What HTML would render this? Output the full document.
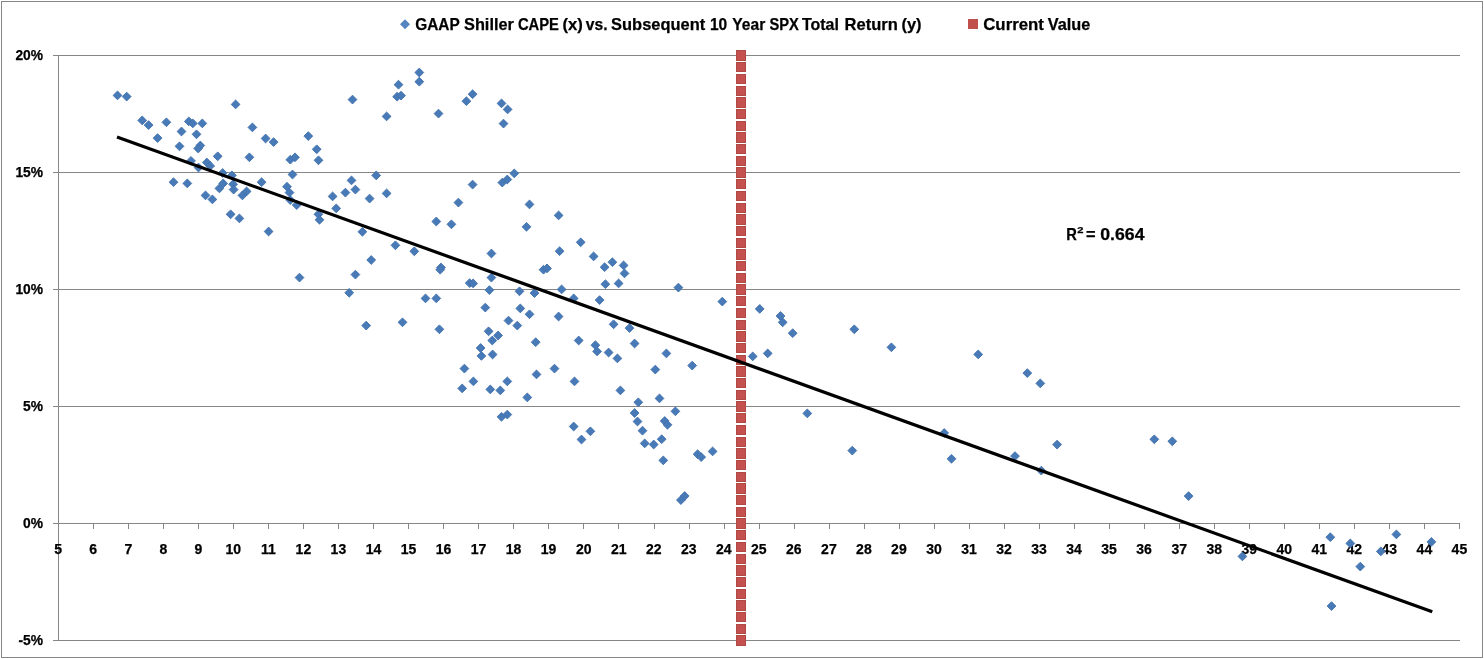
<!DOCTYPE html>
<html><head><meta charset="utf-8"><title>GAAP Shiller CAPE vs. Subsequent 10 Year SPX Total Return</title>
<style>html,body{margin:0;padding:0;background:#fff;overflow:hidden}svg{display:block}text{font-family:"Liberation Sans",sans-serif;font-weight:bold;fill:#000;stroke:#000;stroke-width:0.25px}</style></head><body>
<svg width="1484" height="659" viewBox="0 0 1484 659">
<rect x="0" y="0" width="1484" height="659" fill="#fff"/>
<rect x="1.5" y="1.5" width="1481" height="656" fill="none" stroke="#868686" stroke-width="1"/>
<g stroke="#868686" stroke-width="1" shape-rendering="crispEdges">
<line x1="53" y1="55.5" x2="1460" y2="55.5"/>
<line x1="53" y1="172.5" x2="1460" y2="172.5"/>
<line x1="53" y1="289.5" x2="1460" y2="289.5"/>
<line x1="53" y1="406.5" x2="1460" y2="406.5"/>
<line x1="53" y1="523.5" x2="1460" y2="523.5"/>
<line x1="53" y1="640.5" x2="1460" y2="640.5"/>
<line x1="58.5" y1="55" x2="58.5" y2="641"/>
<line x1="58.5" y1="523" x2="58.5" y2="529"/>
<line x1="93.53" y1="523" x2="93.53" y2="529"/>
<line x1="128.56" y1="523" x2="128.56" y2="529"/>
<line x1="163.59" y1="523" x2="163.59" y2="529"/>
<line x1="198.62" y1="523" x2="198.62" y2="529"/>
<line x1="233.65" y1="523" x2="233.65" y2="529"/>
<line x1="268.68" y1="523" x2="268.68" y2="529"/>
<line x1="303.71" y1="523" x2="303.71" y2="529"/>
<line x1="338.74" y1="523" x2="338.74" y2="529"/>
<line x1="373.77" y1="523" x2="373.77" y2="529"/>
<line x1="408.8" y1="523" x2="408.8" y2="529"/>
<line x1="443.83" y1="523" x2="443.83" y2="529"/>
<line x1="478.86" y1="523" x2="478.86" y2="529"/>
<line x1="513.89" y1="523" x2="513.89" y2="529"/>
<line x1="548.92" y1="523" x2="548.92" y2="529"/>
<line x1="583.95" y1="523" x2="583.95" y2="529"/>
<line x1="618.98" y1="523" x2="618.98" y2="529"/>
<line x1="654.01" y1="523" x2="654.01" y2="529"/>
<line x1="689.04" y1="523" x2="689.04" y2="529"/>
<line x1="724.07" y1="523" x2="724.07" y2="529"/>
<line x1="759.1" y1="523" x2="759.1" y2="529"/>
<line x1="794.13" y1="523" x2="794.13" y2="529"/>
<line x1="829.16" y1="523" x2="829.16" y2="529"/>
<line x1="864.19" y1="523" x2="864.19" y2="529"/>
<line x1="899.22" y1="523" x2="899.22" y2="529"/>
<line x1="934.25" y1="523" x2="934.25" y2="529"/>
<line x1="969.28" y1="523" x2="969.28" y2="529"/>
<line x1="1004.31" y1="523" x2="1004.31" y2="529"/>
<line x1="1039.34" y1="523" x2="1039.34" y2="529"/>
<line x1="1074.37" y1="523" x2="1074.37" y2="529"/>
<line x1="1109.4" y1="523" x2="1109.4" y2="529"/>
<line x1="1144.43" y1="523" x2="1144.43" y2="529"/>
<line x1="1179.46" y1="523" x2="1179.46" y2="529"/>
<line x1="1214.49" y1="523" x2="1214.49" y2="529"/>
<line x1="1249.52" y1="523" x2="1249.52" y2="529"/>
<line x1="1284.55" y1="523" x2="1284.55" y2="529"/>
<line x1="1319.58" y1="523" x2="1319.58" y2="529"/>
<line x1="1354.61" y1="523" x2="1354.61" y2="529"/>
<line x1="1389.64" y1="523" x2="1389.64" y2="529"/>
<line x1="1424.67" y1="523" x2="1424.67" y2="529"/>
<line x1="1459.7" y1="523" x2="1459.7" y2="529"/>
</g>
<g font-size="13.8" text-anchor="end">
<text x="43" y="60.4">20%</text>
<text x="43" y="177.4">15%</text>
<text x="43" y="294.4">10%</text>
<text x="43" y="411.4">5%</text>
<text x="43" y="528.4">0%</text>
<text x="43" y="645.4">-5%</text>
</g>
<g font-size="14" text-anchor="middle">
<text x="58.2" y="553.6">5</text>
<text x="93.2" y="553.6">6</text>
<text x="128.3" y="553.6">7</text>
<text x="163.3" y="553.6">8</text>
<text x="198.3" y="553.6">9</text>
<text x="233.3" y="553.6">10</text>
<text x="268.4" y="553.6">11</text>
<text x="303.4" y="553.6">12</text>
<text x="338.4" y="553.6">13</text>
<text x="373.5" y="553.6">14</text>
<text x="408.5" y="553.6">15</text>
<text x="443.5" y="553.6">16</text>
<text x="478.6" y="553.6">17</text>
<text x="513.6" y="553.6">18</text>
<text x="548.6" y="553.6">19</text>
<text x="583.7" y="553.6">20</text>
<text x="618.7" y="553.6">21</text>
<text x="653.7" y="553.6">22</text>
<text x="688.7" y="553.6">23</text>
<text x="723.8" y="553.6">24</text>
<text x="758.8" y="553.6">25</text>
<text x="793.8" y="553.6">26</text>
<text x="828.9" y="553.6">27</text>
<text x="863.9" y="553.6">28</text>
<text x="898.9" y="553.6">29</text>
<text x="934.0" y="553.6">30</text>
<text x="969.0" y="553.6">31</text>
<text x="1004.0" y="553.6">32</text>
<text x="1039.0" y="553.6">33</text>
<text x="1074.1" y="553.6">34</text>
<text x="1109.1" y="553.6">35</text>
<text x="1144.1" y="553.6">36</text>
<text x="1179.2" y="553.6">37</text>
<text x="1214.2" y="553.6">38</text>
<text x="1249.2" y="553.6">39</text>
<text x="1284.2" y="553.6">40</text>
<text x="1319.3" y="553.6">41</text>
<text x="1354.3" y="553.6">42</text>
<text x="1389.3" y="553.6">43</text>
<text x="1424.4" y="553.6">44</text>
<text x="1459.4" y="553.6">45</text>
</g>
<g fill="#c5514f" stroke="#b04846" stroke-width="1" shape-rendering="crispEdges">
<rect x="736.5" y="50.5" width="9" height="10"/>
<rect x="736.5" y="62.5" width="9" height="9"/>
<rect x="736.5" y="74.5" width="9" height="9"/>
<rect x="736.5" y="86.5" width="9" height="9"/>
<rect x="736.5" y="97.5" width="9" height="10"/>
<rect x="736.5" y="109.5" width="9" height="9"/>
<rect x="736.5" y="121.5" width="9" height="9"/>
<rect x="736.5" y="132.5" width="9" height="10"/>
<rect x="736.5" y="144.5" width="9" height="9"/>
<rect x="736.5" y="156.5" width="9" height="9"/>
<rect x="736.5" y="167.5" width="9" height="10"/>
<rect x="736.5" y="179.5" width="9" height="9"/>
<rect x="736.5" y="191.5" width="9" height="9"/>
<rect x="736.5" y="203.5" width="9" height="9"/>
<rect x="736.5" y="214.5" width="9" height="10"/>
<rect x="736.5" y="226.5" width="9" height="9"/>
<rect x="736.5" y="238.5" width="9" height="9"/>
<rect x="736.5" y="249.5" width="9" height="10"/>
<rect x="736.5" y="261.5" width="9" height="9"/>
<rect x="736.5" y="273.5" width="9" height="9"/>
<rect x="736.5" y="284.5" width="9" height="10"/>
<rect x="736.5" y="296.5" width="9" height="9"/>
<rect x="736.5" y="308.5" width="9" height="9"/>
<rect x="736.5" y="320.5" width="9" height="9"/>
<rect x="736.5" y="331.5" width="9" height="10"/>
<rect x="736.5" y="343.5" width="9" height="9"/>
<rect x="736.5" y="355.5" width="9" height="9"/>
<rect x="736.5" y="366.5" width="9" height="10"/>
<rect x="736.5" y="378.5" width="9" height="9"/>
<rect x="736.5" y="390.5" width="9" height="9"/>
<rect x="736.5" y="401.5" width="9" height="10"/>
<rect x="736.5" y="413.5" width="9" height="9"/>
<rect x="736.5" y="425.5" width="9" height="9"/>
<rect x="736.5" y="437.5" width="9" height="9"/>
<rect x="736.5" y="448.5" width="9" height="10"/>
<rect x="736.5" y="460.5" width="9" height="9"/>
<rect x="736.5" y="472.5" width="9" height="9"/>
<rect x="736.5" y="483.5" width="9" height="10"/>
<rect x="736.5" y="495.5" width="9" height="9"/>
<rect x="736.5" y="507.5" width="9" height="9"/>
<rect x="736.5" y="518.5" width="9" height="10"/>
<rect x="736.5" y="530.5" width="9" height="9"/>
<rect x="736.5" y="542.5" width="9" height="9"/>
<rect x="736.5" y="554.5" width="9" height="9"/>
<rect x="736.5" y="565.5" width="9" height="10"/>
<rect x="736.5" y="577.5" width="9" height="9"/>
<rect x="736.5" y="589.5" width="9" height="9"/>
<rect x="736.5" y="600.5" width="9" height="10"/>
<rect x="736.5" y="612.5" width="9" height="9"/>
<rect x="736.5" y="624.5" width="9" height="9"/>
<rect x="736.5" y="635.5" width="9" height="10"/>
</g>
<g fill="#487ab8" stroke="#4272ad" stroke-width="0.9">
<path d="M117.5 91.0L121.9 95.4L117.5 99.8L113.1 95.4Z"/>
<path d="M126.7 92.2L131.1 96.6L126.7 101.0L122.3 96.6Z"/>
<path d="M142.2 116.0L146.6 120.4L142.2 124.8L137.8 120.4Z"/>
<path d="M148.6 120.7L153.0 125.1L148.6 129.5L144.2 125.1Z"/>
<path d="M166.4 117.9L170.8 122.3L166.4 126.7L162.0 122.3Z"/>
<path d="M157.6 133.7L162.0 138.1L157.6 142.5L153.2 138.1Z"/>
<path d="M181.5 127.1L185.9 131.5L181.5 135.9L177.1 131.5Z"/>
<path d="M188.8 117.0L193.2 121.4L188.8 125.8L184.4 121.4Z"/>
<path d="M192.8 119.0L197.2 123.4L192.8 127.8L188.4 123.4Z"/>
<path d="M202.3 119.0L206.7 123.4L202.3 127.8L197.9 123.4Z"/>
<path d="M196.5 129.9L200.9 134.3L196.5 138.7L192.1 134.3Z"/>
<path d="M179.5 141.9L183.9 146.3L179.5 150.7L175.1 146.3Z"/>
<path d="M200.3 141.1L204.7 145.5L200.3 149.9L195.9 145.5Z"/>
<path d="M198.2 144.1L202.6 148.5L198.2 152.9L193.8 148.5Z"/>
<path d="M217.7 151.9L222.1 156.3L217.7 160.7L213.3 156.3Z"/>
<path d="M235.6 100.0L240.0 104.4L235.6 108.8L231.2 104.4Z"/>
<path d="M252.4 123.0L256.8 127.4L252.4 131.8L248.0 127.4Z"/>
<path d="M265.6 134.1L270.0 138.5L265.6 142.9L261.2 138.5Z"/>
<path d="M273.6 137.7L278.0 142.1L273.6 146.5L269.2 142.1Z"/>
<path d="M249.4 152.9L253.8 157.3L249.4 161.7L245.0 157.3Z"/>
<path d="M308.3 131.7L312.7 136.1L308.3 140.5L303.9 136.1Z"/>
<path d="M316.7 144.9L321.1 149.3L316.7 153.7L312.3 149.3Z"/>
<path d="M290.3 155.3L294.7 159.7L290.3 164.1L285.9 159.7Z"/>
<path d="M295.0 152.9L299.4 157.3L295.0 161.7L290.6 157.3Z"/>
<path d="M318.5 155.9L322.9 160.3L318.5 164.7L314.1 160.3Z"/>
<path d="M191.0 156.5L195.4 160.9L191.0 165.3L186.6 160.9Z"/>
<path d="M198.5 163.1L202.9 167.5L198.5 171.9L194.1 167.5Z"/>
<path d="M206.8 158.1L211.2 162.5L206.8 166.9L202.4 162.5Z"/>
<path d="M210.2 161.5L214.6 165.9L210.2 170.3L205.8 165.9Z"/>
<path d="M222.7 168.6L227.1 173.0L222.7 177.4L218.3 173.0Z"/>
<path d="M231.9 171.0L236.3 175.4L231.9 179.8L227.5 175.4Z"/>
<path d="M292.5 170.1L296.9 174.5L292.5 178.9L288.1 174.5Z"/>
<path d="M173.5 177.8L177.9 182.2L173.5 186.6L169.1 182.2Z"/>
<path d="M187.3 179.0L191.7 183.4L187.3 187.8L182.9 183.4Z"/>
<path d="M223.2 179.0L227.6 183.4L223.2 187.8L218.8 183.4Z"/>
<path d="M219.4 184.0L223.8 188.4L219.4 192.8L215.0 188.4Z"/>
<path d="M233.1 179.8L237.5 184.2L233.1 188.6L228.7 184.2Z"/>
<path d="M233.6 185.2L238.0 189.6L233.6 194.0L229.2 189.6Z"/>
<path d="M261.6 177.8L266.0 182.2L261.6 186.6L257.2 182.2Z"/>
<path d="M287.0 182.3L291.4 186.7L287.0 191.1L282.6 186.7Z"/>
<path d="M289.5 188.2L293.9 192.6L289.5 197.0L285.1 192.6Z"/>
<path d="M246.6 187.0L251.0 191.4L246.6 195.8L242.2 191.4Z"/>
<path d="M242.4 191.0L246.8 195.4L242.4 199.8L238.0 195.4Z"/>
<path d="M205.5 191.0L209.9 195.4L205.5 199.8L201.1 195.4Z"/>
<path d="M212.4 195.0L216.8 199.4L212.4 203.8L208.0 199.4Z"/>
<path d="M290.3 195.7L294.7 200.1L290.3 204.5L285.9 200.1Z"/>
<path d="M296.7 200.7L301.1 205.1L296.7 209.5L292.3 205.1Z"/>
<path d="M332.6 192.0L337.0 196.4L332.6 200.8L328.2 196.4Z"/>
<path d="M336.2 204.0L340.6 208.4L336.2 212.8L331.8 208.4Z"/>
<path d="M318.4 209.9L322.8 214.3L318.4 218.7L314.0 214.3Z"/>
<path d="M319.5 215.4L323.9 219.8L319.5 224.2L315.1 219.8Z"/>
<path d="M230.6 209.9L235.0 214.3L230.6 218.7L226.2 214.3Z"/>
<path d="M239.4 214.0L243.8 218.4L239.4 222.8L235.0 218.4Z"/>
<path d="M268.6 227.1L273.0 231.5L268.6 235.9L264.2 231.5Z"/>
<path d="M352.5 95.2L356.9 99.6L352.5 104.0L348.1 99.6Z"/>
<path d="M386.6 112.0L391.0 116.4L386.6 120.8L382.2 116.4Z"/>
<path d="M398.5 80.3L402.9 84.7L398.5 89.1L394.1 84.7Z"/>
<path d="M397.1 92.3L401.5 96.7L397.1 101.1L392.7 96.7Z"/>
<path d="M401.0 91.2L405.4 95.6L401.0 100.0L396.6 95.6Z"/>
<path d="M419.3 68.1L423.7 72.5L419.3 76.9L414.9 72.5Z"/>
<path d="M419.3 77.3L423.7 81.7L419.3 86.1L414.9 81.7Z"/>
<path d="M438.5 109.2L442.9 113.6L438.5 118.0L434.1 113.6Z"/>
<path d="M466.4 96.8L470.8 101.2L466.4 105.6L462.0 101.2Z"/>
<path d="M472.6 89.8L477.0 94.2L472.6 98.6L468.2 94.2Z"/>
<path d="M501.5 99.0L505.9 103.4L501.5 107.8L497.1 103.4Z"/>
<path d="M507.6 105.0L512.0 109.4L507.6 113.8L503.2 109.4Z"/>
<path d="M503.5 119.2L507.9 123.6L503.5 128.0L499.1 123.6Z"/>
<path d="M345.4 188.2L349.8 192.6L345.4 197.0L341.0 192.6Z"/>
<path d="M351.5 176.0L355.9 180.4L351.5 184.8L347.1 180.4Z"/>
<path d="M355.4 185.2L359.8 189.6L355.4 194.0L351.0 189.6Z"/>
<path d="M376.2 171.0L380.6 175.4L376.2 179.8L371.8 175.4Z"/>
<path d="M369.6 194.2L374.0 198.6L369.6 203.0L365.2 198.6Z"/>
<path d="M386.6 189.0L391.0 193.4L386.6 197.8L382.2 193.4Z"/>
<path d="M362.4 227.4L366.8 231.8L362.4 236.2L358.0 231.8Z"/>
<path d="M395.4 240.9L399.8 245.3L395.4 249.7L391.0 245.3Z"/>
<path d="M414.3 246.9L418.7 251.3L414.3 255.7L409.9 251.3Z"/>
<path d="M436.3 217.1L440.7 221.5L436.3 225.9L431.9 221.5Z"/>
<path d="M451.4 219.9L455.8 224.3L451.4 228.7L447.0 224.3Z"/>
<path d="M458.4 198.2L462.8 202.6L458.4 207.0L454.0 202.6Z"/>
<path d="M472.6 180.2L477.0 184.6L472.6 189.0L468.2 184.6Z"/>
<path d="M502.3 178.2L506.7 182.6L502.3 187.0L497.9 182.6Z"/>
<path d="M507.3 175.1L511.7 179.5L507.3 183.9L502.9 179.5Z"/>
<path d="M514.3 169.0L518.7 173.4L514.3 177.8L509.9 173.4Z"/>
<path d="M529.5 200.0L533.9 204.4L529.5 208.8L525.1 204.4Z"/>
<path d="M526.5 222.4L530.9 226.8L526.5 231.2L522.1 226.8Z"/>
<path d="M558.6 211.0L563.0 215.4L558.6 219.8L554.2 215.4Z"/>
<path d="M559.6 246.8L564.0 251.2L559.6 255.6L555.2 251.2Z"/>
<path d="M491.4 249.1L495.8 253.5L491.4 257.9L487.0 253.5Z"/>
<path d="M371.2 255.6L375.6 260.0L371.2 264.4L366.8 260.0Z"/>
<path d="M355.4 270.2L359.8 274.6L355.4 279.0L351.0 274.6Z"/>
<path d="M349.2 288.4L353.6 292.8L349.2 297.2L344.8 292.8Z"/>
<path d="M366.2 321.2L370.6 325.6L366.2 330.0L361.8 325.6Z"/>
<path d="M402.5 317.9L406.9 322.3L402.5 326.7L398.1 322.3Z"/>
<path d="M425.5 294.0L429.9 298.4L425.5 302.8L421.1 298.4Z"/>
<path d="M436.3 294.0L440.7 298.4L436.3 302.8L431.9 298.4Z"/>
<path d="M441.0 263.1L445.4 267.5L441.0 271.9L436.6 267.5Z"/>
<path d="M440.2 265.3L444.6 269.7L440.2 274.1L435.8 269.7Z"/>
<path d="M439.4 324.9L443.8 329.3L439.4 333.7L435.0 329.3Z"/>
<path d="M469.7 278.7L474.1 283.1L469.7 287.5L465.3 283.1Z"/>
<path d="M473.1 279.0L477.5 283.4L473.1 287.8L468.7 283.4Z"/>
<path d="M491.4 273.2L495.8 277.6L491.4 282.0L487.0 277.6Z"/>
<path d="M489.4 285.7L493.8 290.1L489.4 294.5L485.0 290.1Z"/>
<path d="M485.3 303.2L489.7 307.6L485.3 312.0L480.9 307.6Z"/>
<path d="M488.6 326.9L493.0 331.3L488.6 335.7L484.2 331.3Z"/>
<path d="M498.1 331.1L502.5 335.5L498.1 339.9L493.7 335.5Z"/>
<path d="M492.3 336.1L496.7 340.5L492.3 344.9L487.9 340.5Z"/>
<path d="M508.5 316.2L512.9 320.6L508.5 325.0L504.1 320.6Z"/>
<path d="M517.3 321.2L521.7 325.6L517.3 330.0L512.9 325.6Z"/>
<path d="M519.5 286.9L523.9 291.3L519.5 295.7L515.1 291.3Z"/>
<path d="M520.3 304.0L524.7 308.4L520.3 312.8L515.9 308.4Z"/>
<path d="M529.5 309.9L533.9 314.3L529.5 318.7L525.1 314.3Z"/>
<path d="M534.5 288.7L538.9 293.1L534.5 297.5L530.1 293.1Z"/>
<path d="M535.7 337.8L540.1 342.2L535.7 346.6L531.3 342.2Z"/>
<path d="M543.5 265.3L547.9 269.7L543.5 274.1L539.1 269.7Z"/>
<path d="M547.0 264.0L551.4 268.4L547.0 272.8L542.6 268.4Z"/>
<path d="M558.6 312.1L563.0 316.5L558.6 320.9L554.2 316.5Z"/>
<path d="M561.6 285.0L566.0 289.4L561.6 293.8L557.2 289.4Z"/>
<path d="M480.6 343.6L485.0 348.0L480.6 352.4L476.2 348.0Z"/>
<path d="M481.4 351.5L485.8 355.9L481.4 360.3L477.0 355.9Z"/>
<path d="M492.6 350.1L497.0 354.5L492.6 358.9L488.2 354.5Z"/>
<path d="M464.4 364.2L468.8 368.6L464.4 373.0L460.0 368.6Z"/>
<path d="M473.4 377.0L477.8 381.4L473.4 385.8L469.0 381.4Z"/>
<path d="M462.2 384.0L466.6 388.4L462.2 392.8L457.8 388.4Z"/>
<path d="M490.3 385.0L494.7 389.4L490.3 393.8L485.9 389.4Z"/>
<path d="M500.3 386.0L504.7 390.4L500.3 394.8L495.9 390.4Z"/>
<path d="M507.3 377.0L511.7 381.4L507.3 385.8L502.9 381.4Z"/>
<path d="M527.3 393.0L531.7 397.4L527.3 401.8L522.9 397.4Z"/>
<path d="M536.5 370.0L540.9 374.4L536.5 378.8L532.1 374.4Z"/>
<path d="M554.5 364.2L558.9 368.6L554.5 373.0L550.1 368.6Z"/>
<path d="M501.5 412.4L505.9 416.8L501.5 421.2L497.1 416.8Z"/>
<path d="M507.3 410.2L511.7 414.6L507.3 419.0L502.9 414.6Z"/>
<path d="M580.7 237.9L585.1 242.3L580.7 246.7L576.3 242.3Z"/>
<path d="M593.6 252.0L598.0 256.4L593.6 260.8L589.2 256.4Z"/>
<path d="M612.4 257.8L616.8 262.2L612.4 266.6L608.0 262.2Z"/>
<path d="M604.6 262.8L609.0 267.2L604.6 271.6L600.2 267.2Z"/>
<path d="M623.6 261.0L628.0 265.4L623.6 269.8L619.2 265.4Z"/>
<path d="M624.5 269.0L628.9 273.4L624.5 277.8L620.1 273.4Z"/>
<path d="M605.4 279.8L609.8 284.2L605.4 288.6L601.0 284.2Z"/>
<path d="M618.6 279.0L623.0 283.4L618.6 287.8L614.2 283.4Z"/>
<path d="M573.7 294.0L578.1 298.4L573.7 302.8L569.3 298.4Z"/>
<path d="M599.6 295.7L604.0 300.1L599.6 304.5L595.2 300.1Z"/>
<path d="M613.6 319.9L618.0 324.3L613.6 328.7L609.2 324.3Z"/>
<path d="M629.5 323.7L633.9 328.1L629.5 332.5L625.1 328.1Z"/>
<path d="M578.7 336.1L583.1 340.5L578.7 344.9L574.3 340.5Z"/>
<path d="M595.4 340.8L599.8 345.2L595.4 349.6L591.0 345.2Z"/>
<path d="M634.6 339.1L639.0 343.5L634.6 347.9L630.2 343.5Z"/>
<path d="M678.4 283.2L682.8 287.6L678.4 292.0L674.0 287.6Z"/>
<path d="M722.3 297.2L726.7 301.6L722.3 306.0L717.9 301.6Z"/>
<path d="M759.7 304.5L764.1 308.9L759.7 313.3L755.3 308.9Z"/>
<path d="M780.5 311.6L784.9 316.0L780.5 320.4L776.1 316.0Z"/>
<path d="M782.7 317.9L787.1 322.3L782.7 326.7L778.3 322.3Z"/>
<path d="M792.7 328.8L797.1 333.2L792.7 337.6L788.3 333.2Z"/>
<path d="M574.5 377.0L578.9 381.4L574.5 385.8L570.1 381.4Z"/>
<path d="M573.7 422.1L578.1 426.5L573.7 430.9L569.3 426.5Z"/>
<path d="M597.1 347.0L601.5 351.4L597.1 355.8L592.7 351.4Z"/>
<path d="M608.6 348.1L613.0 352.5L608.6 356.9L604.2 352.5Z"/>
<path d="M666.4 349.0L670.8 353.4L666.4 357.8L662.0 353.4Z"/>
<path d="M767.7 349.0L772.1 353.4L767.7 357.8L763.3 353.4Z"/>
<path d="M617.4 354.0L621.8 358.4L617.4 362.8L613.0 358.4Z"/>
<path d="M655.3 365.2L659.7 369.6L655.3 374.0L650.9 369.6Z"/>
<path d="M692.2 361.2L696.6 365.6L692.2 370.0L687.8 365.6Z"/>
<path d="M752.7 352.0L757.1 356.4L752.7 360.8L748.3 356.4Z"/>
<path d="M620.4 386.0L624.8 390.4L620.4 394.8L616.0 390.4Z"/>
<path d="M638.3 397.9L642.7 402.3L638.3 406.7L633.9 402.3Z"/>
<path d="M659.5 394.0L663.9 398.4L659.5 402.8L655.1 398.4Z"/>
<path d="M675.4 406.9L679.8 411.3L675.4 415.7L671.0 411.3Z"/>
<path d="M634.6 408.6L639.0 413.0L634.6 417.4L630.2 413.0Z"/>
<path d="M637.5 417.1L641.9 421.5L637.5 425.9L633.1 421.5Z"/>
<path d="M664.7 416.6L669.1 421.0L664.7 425.4L660.3 421.0Z"/>
<path d="M667.5 420.4L671.9 424.8L667.5 429.2L663.1 424.8Z"/>
<path d="M590.4 426.9L594.8 431.3L590.4 435.7L586.0 431.3Z"/>
<path d="M642.5 426.3L646.9 430.7L642.5 435.1L638.1 430.7Z"/>
<path d="M581.5 435.1L585.9 439.5L581.5 443.9L577.1 439.5Z"/>
<path d="M644.7 439.0L649.1 443.4L644.7 447.8L640.3 443.4Z"/>
<path d="M653.7 440.1L658.1 444.5L653.7 448.9L649.3 444.5Z"/>
<path d="M661.7 434.8L666.1 439.2L661.7 443.6L657.3 439.2Z"/>
<path d="M663.3 456.0L667.7 460.4L663.3 464.8L658.9 460.4Z"/>
<path d="M697.6 449.8L702.0 454.2L697.6 458.6L693.2 454.2Z"/>
<path d="M701.2 452.7L705.6 457.1L701.2 461.5L696.8 457.1Z"/>
<path d="M712.6 447.0L717.0 451.4L712.6 455.8L708.2 451.4Z"/>
<path d="M680.9 495.7L685.3 500.1L680.9 504.5L676.5 500.1Z"/>
<path d="M684.7 491.6L689.1 496.0L684.7 500.4L680.3 496.0Z"/>
<path d="M854.3 324.9L858.7 329.3L854.3 333.7L849.9 329.3Z"/>
<path d="M891.4 342.9L895.8 347.3L891.4 351.7L887.0 347.3Z"/>
<path d="M978.2 350.0L982.6 354.4L978.2 358.8L973.8 354.4Z"/>
<path d="M1027.3 368.7L1031.7 373.1L1027.3 377.5L1022.9 373.1Z"/>
<path d="M1040.3 379.0L1044.7 383.4L1040.3 387.8L1035.9 383.4Z"/>
<path d="M807.3 409.0L811.7 413.4L807.3 417.8L802.9 413.4Z"/>
<path d="M852.3 446.2L856.7 450.6L852.3 455.0L847.9 450.6Z"/>
<path d="M944.2 428.6L948.6 433.0L944.2 437.4L939.8 433.0Z"/>
<path d="M951.5 454.4L955.9 458.8L951.5 463.2L947.1 458.8Z"/>
<path d="M1015.0 451.7L1019.4 456.1L1015.0 460.5L1010.6 456.1Z"/>
<path d="M1041.3 466.2L1045.7 470.6L1041.3 475.0L1036.9 470.6Z"/>
<path d="M1057.1 440.2L1061.5 444.6L1057.1 449.0L1052.7 444.6Z"/>
<path d="M1154.3 434.9L1158.7 439.3L1154.3 443.7L1149.9 439.3Z"/>
<path d="M1172.3 436.9L1176.7 441.3L1172.3 445.7L1167.9 441.3Z"/>
<path d="M1188.6 491.7L1193.0 496.1L1188.6 500.5L1184.2 496.1Z"/>
<path d="M1242.4 552.0L1246.8 556.4L1242.4 560.8L1238.0 556.4Z"/>
<path d="M1330.3 532.8L1334.7 537.2L1330.3 541.6L1325.9 537.2Z"/>
<path d="M1350.3 539.0L1354.7 543.4L1350.3 547.8L1345.9 543.4Z"/>
<path d="M1380.8 547.0L1385.2 551.4L1380.8 555.8L1376.4 551.4Z"/>
<path d="M1396.4 530.0L1400.8 534.4L1396.4 538.8L1392.0 534.4Z"/>
<path d="M1431.4 537.5L1435.8 541.9L1431.4 546.3L1427.0 541.9Z"/>
<path d="M1360.3 562.2L1364.7 566.6L1360.3 571.0L1355.9 566.6Z"/>
<path d="M1331.5 601.7L1335.9 606.1L1331.5 610.5L1327.1 606.1Z"/>
<path d="M299.5 273.2L303.9 277.6L299.5 282.0L295.1 277.6Z"/>
</g>
<line x1="117" y1="136.9" x2="1432.3" y2="611.8" stroke="#000" stroke-width="3.2" stroke-linecap="butt"/>
<text y="239.9" font-size="16.5"><tspan x="1066.3" textLength="10.6" lengthAdjust="spacingAndGlyphs">R</tspan><tspan x="1077.2" y="233.4" font-size="9.8" textLength="6.2" lengthAdjust="spacingAndGlyphs">2</tspan><tspan x="1086.0" y="239.9" textLength="9.6" lengthAdjust="spacingAndGlyphs">=</tspan><tspan x="1100.3" textLength="44.2" lengthAdjust="spacingAndGlyphs">0.664</tspan></text>
<path d="M405 19.3L410.0 24.3L405 29.3L400.0 24.3Z" fill="#5585c0"/>
<text y="29.7" font-size="17"><tspan x="415.2" textLength="44.20" lengthAdjust="spacingAndGlyphs">GAAP</tspan> <tspan x="464.0" textLength="49.90" lengthAdjust="spacingAndGlyphs">Shiller</tspan> <tspan x="517.9" textLength="41.10" lengthAdjust="spacingAndGlyphs">CAPE</tspan> <tspan x="562.4" textLength="20.40" lengthAdjust="spacingAndGlyphs">(x)</tspan> <tspan x="585.8" textLength="21.70" lengthAdjust="spacingAndGlyphs">vs.</tspan> <tspan x="611.1" textLength="94.10" lengthAdjust="spacingAndGlyphs">Subsequent</tspan> <tspan x="709.9" textLength="17.30" lengthAdjust="spacingAndGlyphs">10</tspan> <tspan x="732.3" textLength="33.00" lengthAdjust="spacingAndGlyphs">Year</tspan> <tspan x="769.4" textLength="29.40" lengthAdjust="spacingAndGlyphs">SPX</tspan> <tspan x="801.9" textLength="37.00" lengthAdjust="spacingAndGlyphs">Total</tspan> <tspan x="844.5" textLength="53.30" lengthAdjust="spacingAndGlyphs">Return</tspan> <tspan x="901.5" textLength="20.10" lengthAdjust="spacingAndGlyphs">(y)</tspan></text>
<rect x="968" y="19" width="10" height="10" fill="#c0504d"/>
<text y="29.7" font-size="17"><tspan x="983.2" textLength="60.80" lengthAdjust="spacingAndGlyphs">Current</tspan> <tspan x="1047.7" textLength="42.60" lengthAdjust="spacingAndGlyphs">Value</tspan></text>
</svg></body></html>
